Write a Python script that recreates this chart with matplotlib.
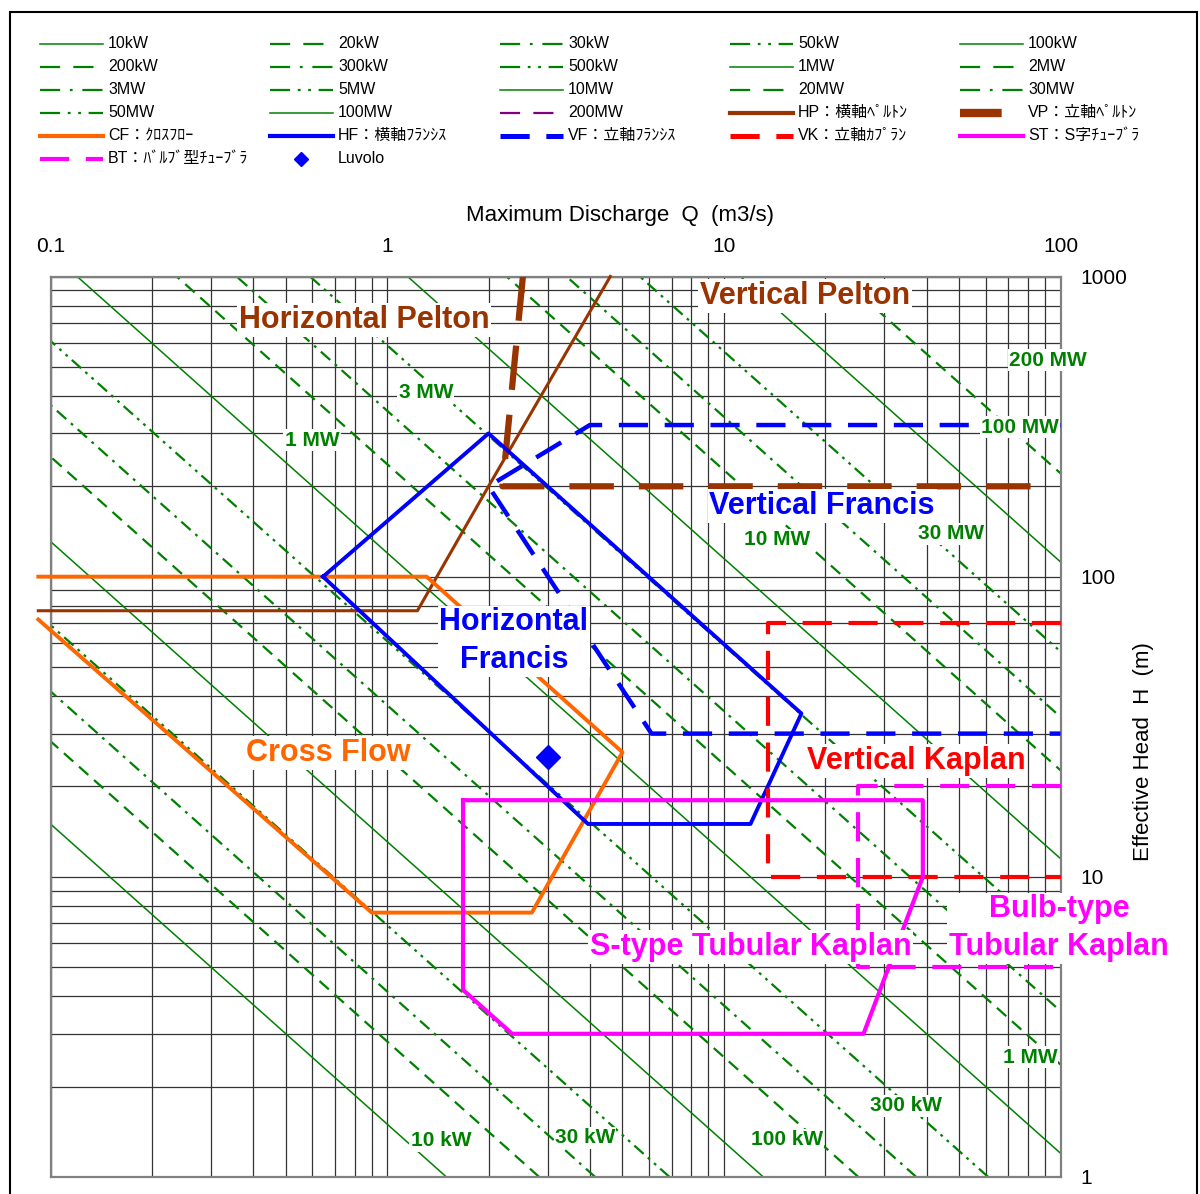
import matplotlib
matplotlib.use("Agg")
import matplotlib.pyplot as plt
import numpy as np
from matplotlib.lines import Line2D
from matplotlib.patches import Rectangle
from matplotlib.ticker import NullFormatter

plt.rcParams["font.family"] = ["Liberation Sans", "Noto Sans CJK JP", "DejaVu Sans"]
plt.rcParams["lines.scale_dashes"] = False

W, H = 1200, 1194

# iso-power lines: rating, discharge at 1 m head (m3/s), line style
power_names = ["10kW", "20kW", "30kW", "50kW", "100kW", "200kW", "300kW", "500kW", "1MW",
               "2MW", "3MW", "5MW", "10MW", "20MW", "30MW", "50MW", "100MW", "200MW"]
power_q_at_1m = [1.50, 2.83, 4.15, 6.9, 13.1, 25.1, 37.3, 61.0, 120.0,
                 237.0, 357.0, 590.0, 1150.0, 2265.0, 3410.0, 5630.0, 11200.0, 22100.0]
power_styles = ["solid", "dash", "dashdot", "dashdotdot", "solid", "dash", "dashdot", "dashdotdot",
                "solid", "dash", "dashdot", "dashdotdot", "solid", "dash", "dashdot", "dashdotdot",
                "solid", "dash"]

# turbine application ranges (Q m3/s, H m)
hp_q = [0.092, 1.23, 2.0, 4.6]
hp_h = [77, 77, 200, 1000]
vp_q = [2.53, 2.2, 85]
vp_h = [1000, 200, 200]
cf_q = [0.092, 1.31, 5.0, 2.69, 0.9, 0.092]
cf_h = [100, 100, 26, 7.6, 7.6, 72]
hf_q = [0.645, 2.0, 17.0, 12.0, 3.95, 0.645]
hf_h = [100, 300, 35, 15, 15, 100]
vf_q = [100, 4.0, 2.0, 6.1, 100]
vf_h = [320, 320, 200, 30, 30]
vk_q = [100, 13.5, 13.5, 100]
vk_h = [70, 70, 10, 10]
st_q = [1.68, 39, 39, 26, 2.35, 1.68, 1.68]
st_h = [18, 18, 10, 3, 3, 4.2, 18]
bt_q = [100, 25, 25, 100]
bt_h = [20, 20, 5, 5]
luvolo_q = [3.0]
luvolo_h = [25]

q_ticks = [0.1, 1, 10, 100]
q_tick_labels = ["0.1", "1", "10", "100"]
h_ticks = [1, 10, 100, 1000]
h_tick_labels = ["1", "10", "100", "1000"]

GREEN = "#008000"
BROWN = "#993300"
ORANGE = "#FF6600"
BLUE = "#0000FF"
RED = "#FF0000"
MAGENTA = "#FF00FF"

plot_dashes = {"dash": (9, 5.5), "dashdot": (9, 4.5, 2, 4.5), "dashdotdot": (9, 4, 2, 4, 2, 4)}
legend_dashes = {"dash": (14.5, 9.5), "dashdot": (14.5, 7, 2, 7), "dashdotdot": (14.5, 5.5, 2, 5.5, 2, 5.5)}


def green_kw(style, dashes):
    if style == "solid":
        return dict(color=GREEN, lw=1.1, linestyle="-")
    return dict(color=GREEN, lw=1.6, dashes=dashes[style])


turbines = [
    ("HP：横軸ﾍﾟﾙﾄﾝ", hp_q, hp_h, dict(color=BROWN, lw=2.2), dict(color=BROWN, lw=3.0)),
    ("VP：立軸ﾍﾟﾙﾄﾝ", vp_q, vp_h, dict(color=BROWN, lw=4.5, dashes=(32, 18)),
     dict(color=BROWN, lw=6.0, dashes=(30, 100))),
    ("CF：ｸﾛｽﾌﾛｰ", cf_q, cf_h, dict(color=ORANGE, lw=2.8), dict(color=ORANGE, lw=3.0)),
    ("HF：横軸ﾌﾗﾝｼｽ", hf_q, hf_h, dict(color=BLUE, lw=2.8), dict(color=BLUE, lw=3.0)),
    ("VF：立軸ﾌﾗﾝｼｽ", vf_q, vf_h, dict(color=BLUE, lw=3.2, dashes=(21, 12)),
     dict(color=BLUE, lw=3.6, dashes=(21, 12))),
    ("VK：立軸ｶﾌﾟﾗﾝ", vk_q, vk_h, dict(color=RED, lw=3.0, dashes=(21, 12)),
     dict(color=RED, lw=3.6, dashes=(21, 12))),
    ("ST：S字ﾁｭｰﾌﾞﾗ", st_q, st_h, dict(color=MAGENTA, lw=3.0), dict(color=MAGENTA, lw=3.0)),
    ("BT：ﾊﾞﾙﾌﾞ型ﾁｭｰﾌﾞﾗ", bt_q, bt_h, dict(color=MAGENTA, lw=3.0, dashes=(21, 12)),
     dict(color=MAGENTA, lw=3.0, dashes=(21, 12))),
]

fig = plt.figure(figsize=(W / 100, H / 100), dpi=100)
ax = fig.add_axes([50.5 / W, 1 - 1177 / H, 1010 / W, 900.5 / H])
ax.set_xscale("log")
ax.set_yscale("log")
ax.set_xlim(0.1, 100)
ax.set_ylim(1, 1000)
ax.xaxis.tick_top()
ax.yaxis.tick_right()
ax.set_xticks(q_ticks, labels=q_tick_labels)
ax.set_yticks(h_ticks, labels=h_tick_labels)
ax.xaxis.set_minor_formatter(NullFormatter())
ax.yaxis.set_minor_formatter(NullFormatter())
ax.tick_params(which="both", length=0)
ax.tick_params(axis="x", pad=15, labelsize=15)
ax.tick_params(axis="y", pad=14, labelsize=15)
ax.grid(which="both", color="#333333", lw=0.9, zorder=0)
ax.set_axisbelow(True)
for sp in ax.spines.values():
    sp.set_color("#808080")
    sp.set_linewidth(1.6)

# iso-power lines
h_span = np.array([1.0, 1000.0])
for name, c, style in zip(power_names, power_q_at_1m, power_styles):
    ax.plot(c / h_span, h_span, zorder=2, **green_kw(style, plot_dashes))

# turbine ranges
for name, q, h, kw, _ in turbines:
    clip = min(q) >= 0.1
    ax.plot(q, h, zorder=3, clip_on=clip, **kw)
ax.plot(luvolo_q, luvolo_h, linestyle="none", marker="D", color=BLUE, ms=12, zorder=4)

box = dict(boxstyle="square,pad=0.06", fc="white", ec="none")
power_labels = [
    (0.598, 285, "1 MW"), (1.304, 412, "3 MW"), (14.4, 132.6, "10 MW"), (47.3, 138.8, "30 MW"),
    (75.8, 315, "100 MW"), (91.8, 527, "200 MW"), (81.1, 2.51, "1 MW"), (34.7, 1.725, "300 kW"),
    (15.4, 1.33, "100 kW"), (3.87, 1.35, "30 kW"), (1.445, 1.32, "10 kW"),
]
for q, h, s in power_labels:
    ax.text(q, h, s, ha="center", va="center", fontsize=15, fontweight="bold",
            color=GREEN, bbox=box, zorder=5)

type_labels = [
    (0.855, 716, "Horizontal Pelton", BROWN), (17.4, 861, "Vertical Pelton", BROWN),
    (19.6, 172, "Vertical Francis", BLUE), (2.38, 61.0, "Horizontal\nFrancis", BLUE),
    (0.667, 25.8, "Cross Flow", ORANGE), (37.2, 24.3, "Vertical Kaplan", RED),
    (12.0, 5.85, "S-type Tubular Kaplan", MAGENTA), (98.9, 6.75, "Bulb-type\nTubular Kaplan", MAGENTA),
]
for q, h, s, col in type_labels:
    ax.text(q, h, s, ha="center", va="center", fontsize=22, fontweight="bold", color=col,
            bbox=box, zorder=6, linespacing=1.32)

fig.text(620 / W, 1 - 215 / H, "Maximum Discharge  Q  (m3/s)", ha="center", va="center", fontsize=16)
fig.text(1143 / W, 1 - 752 / H, "Effective Head  H  (m)", ha="center", va="center",
         fontsize=16, rotation=90)

# legend, laid out row by row like the original sheet
entries = []
for name, style in zip(power_names, power_styles):
    kw = green_kw(style, legend_dashes)
    if name == "200MW":
        kw["color"] = "#800080"
    entries.append((name, kw, None))
for name, q, h, _, lkw in turbines:
    entries.append((name, lkw, None))
entries.append(("Luvolo", None, dict(marker="D", color=BLUE, ms=7)))


def fx(x):
    return x / W


def fy(y):
    return 1 - y / H


for i, (name, kw, mk) in enumerate(entries):
    row, col = divmod(i, 5)
    x0 = 40 + 230 * col
    y = 44 + 22.9 * row
    if mk is None:
        fig.add_artist(Line2D([fx(x0), fx(x0 + 63)], [fy(y), fy(y)], transform=fig.transFigure, **kw))
    else:
        fig.add_artist(Line2D([fx(x0 + 31)], [fy(y)], transform=fig.transFigure, linestyle="none", **mk))
    fig.text(fx(x0 + 68), fy(y), name, ha="left", va="center", fontsize=11.5)

fig.add_artist(Rectangle((10 / W, -0.01), 1187 / W, 1.01 - 12 / H, transform=fig.transFigure,
                         fill=False, ec="black", lw=1.5))

fig.savefig("out.png", dpi=100)
